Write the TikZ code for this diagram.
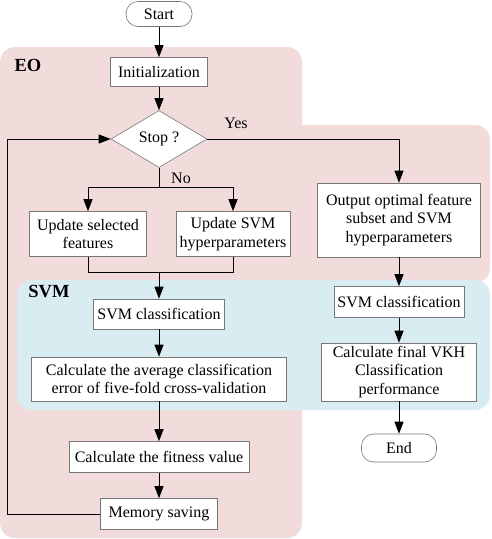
\documentclass[tikz,border=0pt]{standalone}
\usepackage{fontspec}
\setmainfont{Liberation Serif}
\usetikzlibrary{shapes.geometric,arrows.meta,calc}
\definecolor{eopink}{RGB}{242,219,219}
\definecolor{svmblue}{RGB}{217,236,242}
\definecolor{boxgray}{RGB}{120,120,120}
\begin{document}
\begin{tikzpicture}[x=1pt,y=-1pt,
  font=\fontsize{16}{18.5}\selectfont,
  box/.style={draw=boxgray,line width=0.6pt,fill=white,align=center,inner sep=0pt},
  term/.style={box,rounded corners=12pt},
  arr/.style={line width=1pt,-{Triangle[length=12pt,width=9pt]}},
  ln/.style={line width=1pt},
  region/.style={font=\fontsize{18.5}{20}\selectfont\bfseries}]
\useasboundingbox (0,0) rectangle (491,539);
% regions
\fill[eopink,rounded corners=15pt] (0,47) -- (302,47) -- (302,125)[sharp corners] -- (302,125)[rounded corners=15pt] -- (490,125) -- (490,283) -- (302,283) -- (302,538) -- (0,538) -- cycle;
\fill[svmblue,rounded corners=15pt] (17,280) rectangle (490,410);
\node[region] (eolab) at (28,65) {EO};
\node[region] (svmlab) at (49,292) {SVM};
% nodes
\node[term,minimum width=66pt,minimum height=25pt] (start) at (159,14) {Start};
\node[box,minimum width=97pt,minimum height=29pt] (init) at (159,72) {Initialization};
\node[box,diamond,aspect=1.7,minimum width=96pt,minimum height=57pt] (stop) at (159,139) {Stop ?};
\node[box,minimum width=117pt,minimum height=45pt] (upsel) at (88,234) {Update selected\\features};
\node[box,minimum width=114pt,minimum height=45pt] (uphyp) at (233,234) {Update SVM\\hyperparameters};
\node[box,minimum width=163pt,minimum height=74pt] (output) at (399,220) {Output optimal feature\\subset and SVM\\hyperparameters};
\node[box,minimum width=131pt,minimum height=30pt] (svmL) at (159,314) {SVM classification};
\node[box,minimum width=255pt,minimum height=44pt] (avg) at (159,379) {Calculate the average classification\\error of five-fold cross-validation};
\node[box,minimum width=180pt,minimum height=31pt] (fit) at (159,457) {Calculate the fitness value};
\node[box,minimum width=117pt,minimum height=31pt] (mem) at (159,514) {Memory saving};
\node[box,minimum width=130pt,minimum height=31pt] (svmR) at (399,302) {SVM classification};
\node[box,minimum width=155pt,minimum height=58pt] (final) at (399,372) {Calculate final VKH\\Classification\\performance};
\node[term,minimum width=75pt,minimum height=28pt] (end) at (399,448) {End};
% labels
\node (yes) at (236,123) {Yes};
\node (no) at (181,178) {No};
% connectors
\draw[arr] (start) -- (init);
\draw[arr] (init) -- (stop);
\draw[arr] (stop.east) -| (output.north);
\coordinate (split) at (159,187);
\draw[ln] (stop.south) -- (split);
\draw[arr] (split) -| (upsel.north);
\draw[arr] (split) -| (uphyp.north);
\coordinate (merge) at (159,272);
\draw[ln] (upsel.south) |- (merge);
\draw[ln] (uphyp.south) |- (merge);
\draw[arr] (merge) -- (svmL.north);
\draw[arr] (svmL) -- (avg);
\draw[arr] (avg) -- (fit);
\draw[arr] (fit) -- (mem);
\coordinate (lp) at (7,514);
\draw[arr] (mem.west) -- (lp) |- (stop.west);
\draw[arr] (output) -- (svmR);
\draw[arr] (svmR) -- (final);
\draw[arr] (final) -- (end);
\end{tikzpicture}
\end{document}
